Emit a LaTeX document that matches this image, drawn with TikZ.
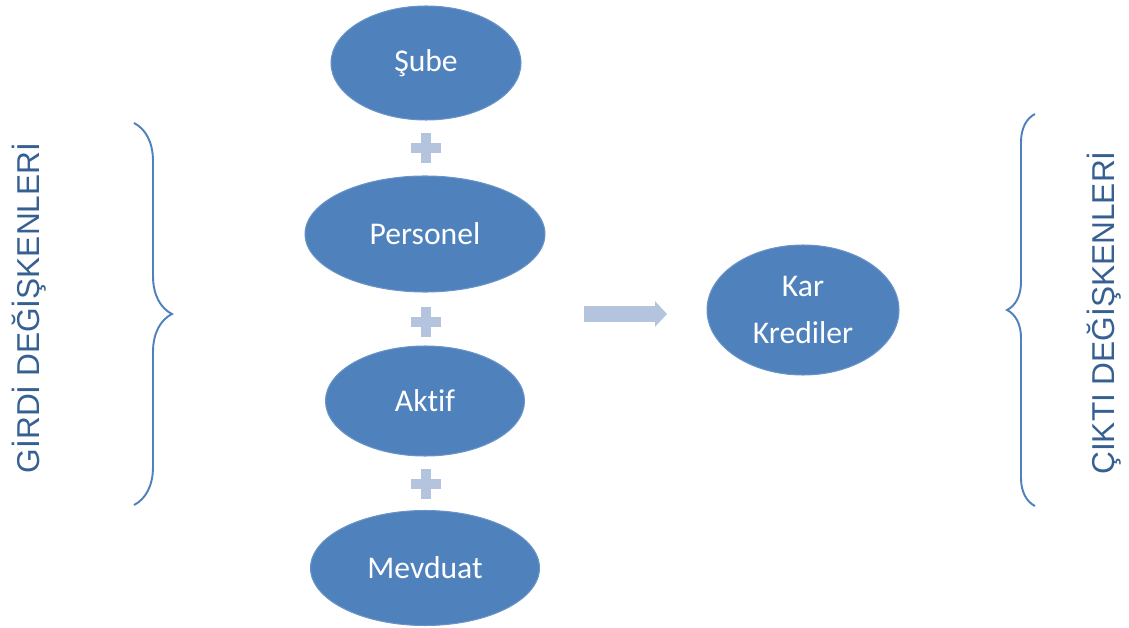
\documentclass[tikz,border=0pt]{standalone}
\usepackage{fontspec}
\setmainfont[Ligatures=NoCommon]{Carlito}
\newfontfamily\sidefont{Liberation Sans}
\usepackage{xcolor}
\usetikzlibrary{shapes.geometric,arrows.meta,decorations.pathreplacing}
\definecolor{ovalblue}{HTML}{4F81BD}
\definecolor{sideblue}{HTML}{376092}
\definecolor{paleblue}{HTML}{B4C4DF}
\tikzset{
  oval/.style={ellipse,fill=ovalblue,draw=ovalblue!85!white,line width=0.6pt,inner sep=0pt,
    text=white,font=\fontsize{18}{27}\selectfont,align=center},
  plussign/.style={fill=paleblue},
  sidelabel/.style={rotate=90,text=sideblue,font=\sidefont\fontsize{18}{21}\selectfont},
  bracket/.style={draw=ovalblue,line width=1.1pt,decorate}
}
\begin{document}
\begin{tikzpicture}[x=0.02cm,y=-0.02cm]
		\useasboundingbox (0,0) rectangle (1129,628);
		% girdi ovalleri
		\node[oval,minimum width=3.8cm,minimum height=2.28cm] (sube) at (426,63) {Şube};
		\node[oval,minimum width=4.8cm,minimum height=2.32cm] (personel) at (425,234) {Personel};
		\node[oval,minimum width=3.98cm,minimum height=2.2cm] (aktif) at (425,401) {Aktif};
		\node[oval,minimum width=4.58cm,minimum height=2.3cm] (mevduat) at (425,568) {Mevduat};
		% cikti ovali
		\node[oval,minimum width=3.84cm,minimum height=2.6cm] (kar) at (803,310) {Kar\\Krediler};
		% arti isaretleri
		\foreach \py in {148,322,484}
		{
		\fill[plussign] (411,\py-5) rectangle (441,\py+5);
		\fill[plussign] (421,\py-15) rectangle (431,\py+15);
		}
		% ok
		\coordinate (okbas) at (584,314);
		\coordinate (okuc) at (667,314);
		\draw[paleblue,line width=0.32cm,-{Triangle[width=0.5cm,length=0.24cm]}] (okbas) -- (okuc);
		% parantezler
		\draw[bracket,decoration={brace,amplitude=0.76cm}] (134,123) -- (134,505);
		\draw[bracket,decoration={brace,amplitude=0.56cm}] (1035,506) -- (1035,114);
		% yan etiketler
		\node[sidelabel] (girdi) at (29,308) {GİRDİ DEĞİŞKENLERİ};
		\node[sidelabel] (cikti) at (1104,313) {ÇIKTI DEĞİŞKENLERİ};
\end{tikzpicture}
\end{document}
